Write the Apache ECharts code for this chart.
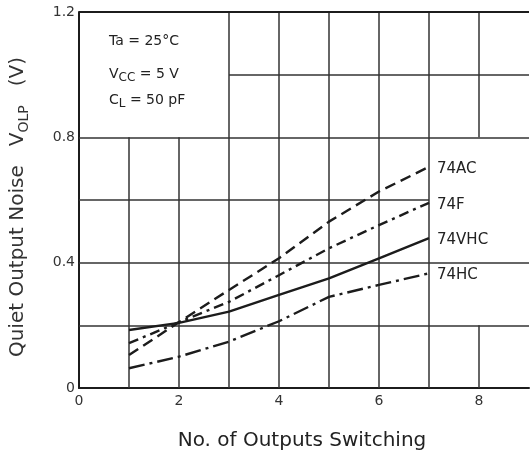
<!DOCTYPE html>
<html>
<head>
<meta charset="utf-8">
<script src="https://cdn.jsdelivr.net/npm/echarts@6/dist/echarts.min.js"></script>
<style>
  html, body { margin: 0; padding: 0; background: #fff; }
  #chart { width: 532px; height: 450px; }
</style>
</head>
<body>
<div id="chart"></div>
<script>
// Number of outputs switching
const outputs = [1, 2, 3, 4, 5, 6, 7];

// Quiet output noise VOLP (V) per logic family
const noiseAC  = [0.105, 0.21, 0.313, 0.414, 0.531, 0.627, 0.706];
const noiseF   = [0.143, 0.21, 0.275, 0.360, 0.446, 0.520, 0.591];
const noiseVHC = [0.185, 0.208, 0.244, 0.297, 0.350, 0.414, 0.478];
const noiseHC  = [0.063, 0.100, 0.148, 0.213, 0.291, 0.329, 0.366];

const familyNames = ['74AC', '74F', '74VHC', '74HC'];

const xTickLabels = [0, 2, 4, 6, 8];
const yTickLabels = [0, 0.4, 0.8, 1.2];

// Graph-paper rules, left open where the condition box and curve labels sit
const gridRules = [
  [[1, 0], [1, 0.8]], [[2, 0], [2, 0.8]],
  [[3, 0], [3, 1.2]], [[4, 0], [4, 1.2]], [[5, 0], [5, 1.2]],
  [[6, 0], [6, 1.2]], [[7, 0], [7, 1.2]],
  [[8, 0], [8, 0.2]], [[8, 0.8], [8, 1.2]],
  [[0, 0.2], [9, 0.2]], [[0, 0.4], [9, 0.4]], [[0, 0.6], [7, 0.6]],
  [[0, 0.8], [9, 0.8]], [[3, 1.0], [9, 1.0]]
];
const borderRules = [[[0, 1.2], [9, 1.2]]];

const INK = '#1c1c1c';
const WIDE = '"DejaVu Sans", "Noto Sans", sans-serif';

const pairs = ys => outputs.map((x, i) => [x, ys[i]]);

function curve(name, ys, dash) {
  return {
    name: name,
    type: 'line',
    data: pairs(ys),
    symbol: 'none',
    smooth: false,
    z: 5,
    lineStyle: { color: INK, width: 2.4, type: dash },
    endLabel: {
      show: true,
      formatter: '{a}',
      distance: 8,
      offset: [0, 2],
      color: '#222',
      fontSize: 15,
      fontFamily: WIDE
    },
    emphasis: { disabled: true }
  };
}

const chart = echarts.init(document.getElementById('chart'), null, { renderer: 'canvas' });

chart.setOption({
  backgroundColor: '#fff',
  animation: false,
  grid: { left: 79, top: 12, width: 454, height: 376, containLabel: false },
  xAxis: {
    type: 'value',
    min: 0, max: 9, interval: 1,
    axisLine: { show: true, lineStyle: { color: INK, width: 2 } },
    axisTick: { show: false },
    splitLine: { show: false },
    axisLabel: {
      color: '#333', fontSize: 14, fontFamily: WIDE, margin: 6,
      formatter: v => (xTickLabels.indexOf(v) >= 0 ? String(v) : '')
    }
  },
  yAxis: {
    type: 'value',
    min: 0, max: 1.2, interval: 0.4,
    axisLine: { show: true, lineStyle: { color: INK, width: 2 } },
    axisTick: { show: false },
    splitLine: { show: false },
    axisLabel: {
      color: '#333', fontSize: 14, fontFamily: WIDE, margin: 4,
      formatter: v => {
        const hit = yTickLabels.find(t => Math.abs(t - v) < 1e-9);
        return hit === undefined ? '' : (hit === 0 ? '0' : hit.toFixed(1));
      }
    },
    name: '{t|Quiet Output Noise   V}{s|OLP}{t|   (V)}',
    nameLocation: 'middle',
    nameRotate: 90,
    nameGap: 48,
    nameTextStyle: {
      padding: [0, 14, 0, 0],
      rich: {
        t: { fontSize: 20, color: '#333', fontFamily: WIDE, lineHeight: 26 },
        s: { fontSize: 14, color: '#333', fontFamily: WIDE, lineHeight: 26, verticalAlign: 'bottom', padding: [8, 0, 0, 0] }
      }
    }
  },
  title: {
    text: 'No. of Outputs Switching',
    left: 297, top: 426,
    textAlign: 'center',
    textStyle: { fontSize: 20, fontWeight: 'normal', color: '#222', fontFamily: WIDE }
  },
  graphic: [
    {
      type: 'text', left: 109, top: 34,
      style: {
        text: '{t|Ta = 25°C}',
        rich: { t: { fontSize: 14, fill: '#222', fontFamily: WIDE } }
      }
    },
    {
      type: 'text', left: 109, top: 65,
      style: {
        text: '{t|V}{s|CC}{t| = 5 V}',
        rich: {
          t: { fontSize: 14, fill: '#222', fontFamily: WIDE, lineHeight: 20 },
          s: { fontSize: 12, fill: '#222', fontFamily: WIDE, lineHeight: 20, verticalAlign: 'bottom', padding: [7, 0, 0, 0] }
        }
      }
    },
    {
      type: 'text', left: 109, top: 91,
      style: {
        text: '{t|C}{s|L}{t| = 50 pF}',
        rich: {
          t: { fontSize: 14, fill: '#222', fontFamily: WIDE, lineHeight: 20 },
          s: { fontSize: 12, fill: '#222', fontFamily: WIDE, lineHeight: 20, verticalAlign: 'bottom', padding: [7, 0, 0, 0] }
        }
      }
    }
  ],
  series: [
    {
      type: 'lines',
      coordinateSystem: 'cartesian2d',
      silent: true,
      z: 1,
      lineStyle: { color: '#333', width: 1.5, opacity: 1 },
      data: gridRules.map(c => ({ coords: c }))
    },
    {
      type: 'lines',
      coordinateSystem: 'cartesian2d',
      silent: true,
      z: 2,
      lineStyle: { color: INK, width: 2, opacity: 1 },
      data: borderRules.map(c => ({ coords: c }))
    },
    curve(familyNames[0], noiseAC, [11, 6]),
    curve(familyNames[1], noiseF, [10, 5, 3, 5]),
    curve(familyNames[2], noiseVHC, 'solid'),
    curve(familyNames[3], noiseHC, [16, 5, 3, 5])
  ]
});
</script>
</body>
</html>
